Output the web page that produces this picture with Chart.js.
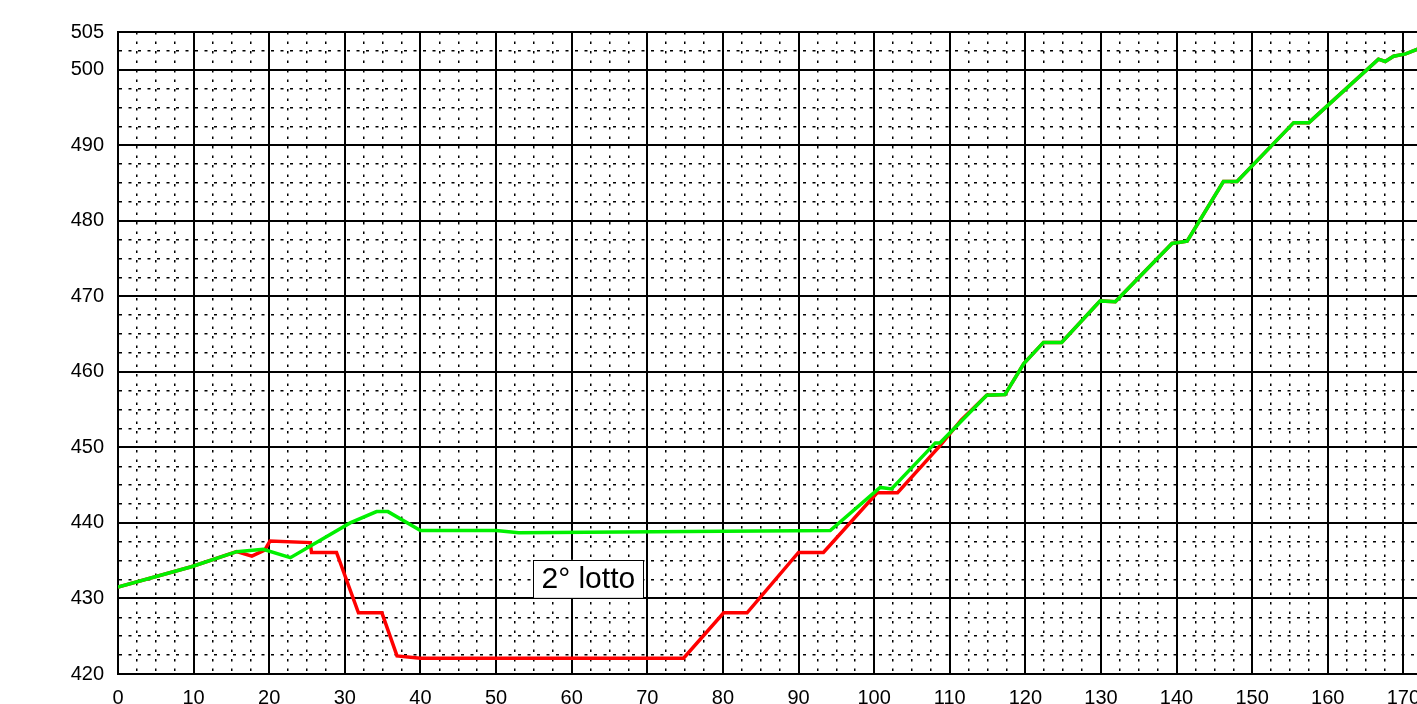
<!DOCTYPE html>
<html>
<head>
<meta charset="utf-8">
<script src="https://cdn.jsdelivr.net/npm/chart.js@4.4.1/dist/chart.umd.min.js"></script>
<style>
  html, body { margin: 0; padding: 0; background: #fff; overflow: hidden; }
  #wrap { width: 1530px; height: 704px; }
</style>
</head>
<body>
<div id="wrap"><canvas id="chart" width="1530" height="704"></canvas></div>
<script>
const xTickLabels = [0, 10, 20, 30, 40, 50, 60, 70, 80, 90, 100, 110, 120, 130, 140, 150, 160, 170, 180];
const yTickLabels = [420, 430, 440, 450, 460, 470, 480, 490, 500, 505];

const greenX = [0, 9.7, 15.7, 19.2, 22.8, 30.7, 34.2, 35.7, 40, 50, 53, 80, 94.2, 100.8, 102.3, 108.1, 108.7, 114.9, 117.3, 119.8, 122.4, 124.8, 129.9, 131.9, 139.4, 141.4, 146.2, 148.0, 155.5, 157.5, 166.7, 167.6, 168.7, 170.3, 171.8, 175];
const greenY = [431.5, 434.2, 436.2, 436.5, 435.4, 440.0, 441.5, 441.5, 439.0, 439.0, 438.7, 438.9, 439.0, 444.7, 444.5, 450.6, 450.6, 456.9, 457.0, 461.1, 463.9, 463.9, 469.4, 469.3, 477.0, 477.3, 485.2, 485.2, 493.0, 493.0, 501.4, 501.1, 501.8, 502.1, 502.7, 504.0];

const redX = [0, 9.7, 15.7, 17.7, 19.4, 20.1, 25.4, 25.6, 28.9, 31.8, 34.9, 36.9, 40, 74.8, 80.1, 83.2, 90.0, 93.3, 100.4, 103.1, 108.7, 111.5, 114.9, 117.3, 119.8, 122.4, 124.8, 129.9, 131.9, 139.4, 141.4, 146.2, 148.0, 155.5, 157.5, 166.7, 167.6, 168.7, 170.3, 171.8, 175];
const redY = [431.5, 434.2, 436.2, 435.6, 436.4, 437.6, 437.4, 436.1, 436.1, 428.1, 428.1, 422.4, 422.1, 422.1, 428.1, 428.1, 436.1, 436.1, 444.0, 444.0, 450.2, 453.6, 456.9, 457.0, 461.1, 463.9, 463.9, 469.4, 469.3, 477.0, 477.3, 485.2, 485.2, 493.0, 493.0, 501.4, 501.1, 501.8, 502.1, 502.7, 504.0];

const noteText = "2° lotto";
const noteX = 62.2;
const noteY = 432.6;

const font = "'Liberation Sans', Arial, sans-serif";

function toPoints(xs, ys) {
  return xs.map((x, i) => ({ x: x, y: ys[i] }));
}

// solid lines on the labelled ticks, dotted ones in between
function isMajor(list, v) {
  return list.some((t) => Math.abs(t - v) < 1e-6);
}

const notePlugin = {
  id: "note",
  afterDatasetsDraw(chart) {
    const ctx = chart.ctx;
    const cx = chart.scales.x.getPixelForValue(noteX);
    const cy = chart.scales.y.getPixelForValue(noteY);
    ctx.save();
    ctx.font = "30px " + font;
    const w = ctx.measureText(noteText).width + 16;
    const h = 38;
    ctx.fillStyle = "#fff";
    ctx.fillRect(cx - w / 2, cy - h / 2, w, h);
    ctx.strokeStyle = "#000";
    ctx.lineWidth = 1;
    ctx.strokeRect(Math.round(cx - w / 2) + 0.5, Math.round(cy - h / 2) + 0.5, Math.round(w), h);
    ctx.fillStyle = "#000";
    ctx.textAlign = "center";
    ctx.textBaseline = "middle";
    ctx.fillText(noteText, cx, cy + 1);
    ctx.restore();
  },
};

new Chart(document.getElementById("chart"), {
  type: "line",
  data: {
    datasets: [
      {
        data: toPoints(greenX, greenY),
        borderColor: "rgb(0, 240, 0)",
        borderWidth: 3.5,
        pointRadius: 0,
        tension: 0,
        fill: false,
      },
      {
        data: toPoints(redX, redY),
        borderColor: "rgb(255, 0, 0)",
        borderWidth: 3.5,
        pointRadius: 0,
        tension: 0,
        fill: false,
      },
    ],
  },
  options: {
    responsive: false,
    animation: false,
    layout: { padding: { left: 0, top: 32, right: 51, bottom: 0 } },
    plugins: {
      legend: { display: false },
      tooltip: { enabled: false },
    },
    scales: {
      x: {
        type: "linear",
        min: 0,
        max: 180,
        afterFit(scale) { scale.height = 30; },
        ticks: {
          stepSize: 2.5,
          autoSkip: false,
          maxRotation: 0,
          minRotation: 0,
          padding: 12,
          color: "#000",
          font: { family: font, size: 20 },
          callback: (v) => (isMajor(xTickLabels, v) ? String(v) : ""),
        },
        grid: {
          drawTicks: false,
          color: "#000",
          lineWidth: (c) => (isMajor(xTickLabels, c.tick.value) ? 2 : 1.5),
        },
        border: {
          display: true,
          color: "#000",
          width: 2,
          dash: (c) => (c.tick && !isMajor(xTickLabels, c.tick.value) ? [2.5, 7] : []),
        },
      },
      y: {
        type: "linear",
        min: 420,
        max: 505,
        afterFit(scale) { scale.width = 118; },
        ticks: {
          stepSize: 2.5,
          autoSkip: false,
          padding: 14,
          color: "#000",
          font: { family: font, size: 20 },
          callback: (v) => (isMajor(yTickLabels, v) ? String(v) : ""),
        },
        grid: {
          drawTicks: false,
          color: "#000",
          lineWidth: (c) => (isMajor(yTickLabels, c.tick.value) ? 2 : 1.5),
        },
        border: {
          display: true,
          color: "#000",
          width: 2,
          dash: (c) => (c.tick && !isMajor(yTickLabels, c.tick.value) ? [3, 6.5] : []),
        },
      },
    },
  },
  plugins: [notePlugin],
});
</script>
</body>
</html>
